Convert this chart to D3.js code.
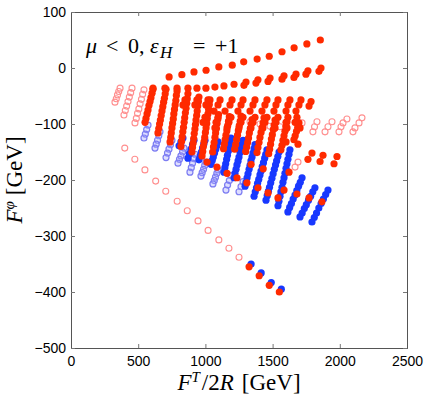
<!DOCTYPE html>
<html><head><meta charset="utf-8">
<script src="https://cdn.jsdelivr.net/npm/d3@7"></script>
<style>body{margin:0;background:#fff}svg{display:block}</style>
</head><body><svg id="c" width="430" height="395"></svg>
<script>
// ---- data (F^T/2R [GeV], F^phi [GeV]) ----
const xTicks = [0, 500, 1000, 1500, 2000, 2500];
const yTicks = [100, 0, -100, -200, -300, -400, -500];

// red open circles
const pinkDiagonal = [[400,-143],[475,-163],[550,-182],[630,-202],[705,-220],[790,-238],[865,-255],[945,-273],[1020,-290],[1100,-307],[1175,-322],[1250,-338]];
const pinkLeft = [[365,-36],[355,-42],[346,-48],[337,-55],[327,-61],
  [454,-36],[444,-44],[434,-52],[424,-60],[414,-68],[404,-76],[394,-84],
  [543,-39],[533,-47],[524,-56],[514,-64],[505,-73],[495,-81],[486,-90],[476,-98]];
const pinkRight = [[1719,-98],[1696,-107],
  [1830,-96],[1812,-105],[1800,-114],
  [1942,-96],[1912,-105],[1890,-114],
  [2053,-91],[2024,-98],[2009,-105],[1994,-114],
  [2165,-89],[2143,-98],[2113,-107],[2098,-114],
  [1689,-168],[1667,-177],
  [1332,-96],[1406,-100],[1481,-104],[1555,-105]];

// light blue open circles
const lightBlue = [[573,-102],[563,-110],[553,-118],[543,-125],
  [662,-114],[653,-121],[644,-129],[634,-136],[625,-143],
  [751,-129],[740,-137],[729,-145],[718,-152],[707,-160],
  [841,-143],[830,-150],[818,-157],[807,-163],[796,-170],
  [923,-154],[914,-162],[904,-170],[895,-178],[885,-186],
  [1004,-168],[995,-174],[986,-181],[976,-187],[967,-193],
  [1094,-182],[1085,-188],[1075,-195],[1066,-201],[1056,-207],
  [1190,-192],[1178,-201],[1165,-209],[1153,-218],
  [1280,-203],[1265,-212],[1250,-221]];

// blue filled
const blueStreaks = [[833,-125],[818,-132],[804,-139],
  [915,-129],[904,-137],[893,-145],[881,-153],[870,-161],
  [997,-129],[988,-136],[979,-143],[970,-150],[961,-157],[952,-164],
  [1094,-132],[1085,-139],[1077,-145],[1068,-152],[1059,-159],[1051,-165],[1042,-172],
  [1190,-125],[1184,-133],[1177,-140],[1171,-148],[1164,-156],[1158,-163],[1151,-171],[1145,-178],[1138,-186],
  [1280,-129],[1273,-136],[1265,-144],[1258,-151],[1250,-159],[1243,-166],[1235,-173],[1228,-181],[1220,-188],[1213,-196],
  [1369,-137],[1362,-144],[1354,-152],[1347,-159],[1339,-166],[1332,-174],[1325,-181],[1317,-189],[1310,-196],[1302,-204],[1295,-211],
  [1458,-146],[1449,-154],[1441,-161],[1432,-169],[1423,-176],[1414,-184],[1406,-191],[1397,-199],[1388,-206],[1380,-214],[1371,-221],[1362,-229],
  [1548,-150],[1539,-158],[1530,-166],[1522,-173],[1513,-181],[1504,-189],[1495,-197],[1486,-205],[1477,-213],[1469,-220],[1460,-228],[1451,-236],
  [1629,-146],[1622,-154],[1614,-163],[1607,-171],[1600,-179],[1592,-188],[1585,-196],[1577,-204],[1570,-213],[1562,-221],[1555,-229],[1547,-238],[1540,-246],
  [1719,-196],[1706,-204],[1693,-211],[1680,-219],[1667,-227],[1653,-234],[1640,-242],[1627,-249],[1614,-257],
  [1815,-214],[1799,-221],[1783,-229],[1767,-236],[1751,-244],[1736,-251],[1720,-259],[1704,-266],
  [1912,-218],[1895,-226],[1878,-234],[1861,-242],[1844,-250],[1827,-259],[1810,-267],[1793,-275]];
const blueDiagonal = [[1340,-350],[1415,-366],[1490,-383],[1565,-395]];

// red filled
const redRowA = [[730,-16],[825,-12],[915,-7],[1005,-4],[1100,2],[1200,5],[1285,11],[1385,16],[1475,21],[1570,29],[1660,36],[1755,43],[1855,50]];
const redRowB = [[610,-36],[699,-36],[789,-36],[870,-36],[937,-36],[1004,-36],[1071,-34],[1138,-32],[1213,-29],[1302,-25],[1391,-21],[1481,-18],[1585,-14],[1674,-11],[1763,-5],[1860,0],
  [1287,-31],[1376,-27],[1466,-24],[1570,-20],[1659,-17],[1748,-11],[1845,-6]];
const redRowC = [[848,-57],[937,-57],[1019,-57],[1109,-57],[1198,-57],[1280,-57],[1369,-57],[1458,-57],[1540,-57],[1629,-57],[1711,-57],[1786,-60],
  [833,-66],[922,-66],[1004,-66],[1094,-66],[1183,-66],[1265,-66],[1354,-66],[1443,-66],[1525,-66],[1614,-66],[1696,-66],[1771,-68]];
const redRowD = [[1064,-77],[1146,-77],[1242,-77],[1332,-77],[1421,-77],[1510,-77],[1600,-77],[1674,-77],
  [997,-88],[1094,-88],[1190,-88],[1280,-88],[1369,-88],[1458,-88],[1540,-88],[1614,-88],[1681,-88],
  [982,-97],[1079,-97],[1175,-97],[1265,-97],[1354,-97],[1443,-97],[1525,-97],[1600,-97],[1667,-97],
  [1071,-107],[1161,-107],[1250,-107],[1339,-107],[1428,-107],[1518,-107],[1607,-107],[1704,-107],
  [1600,-132],[1689,-136]];
const redStreaks = [
  [610,-38],[603,-45],[595,-53],[588,-60],[580,-67],[573,-75],[566,-82],[558,-90],[551,-97],
  [707,-38],[701,-46],[695,-54],[689,-61],[683,-69],[677,-77],[671,-85],[665,-93],[659,-100],[653,-108],[647,-116],
  [789,-41],[784,-49],[780,-58],[775,-66],[770,-74],[765,-82],[761,-91],[756,-99],[751,-107],[746,-116],[742,-124],[737,-132],
  [870,-46],[865,-55],[861,-63],[856,-72],[851,-80],[846,-89],[842,-97],[837,-106],[832,-114],[827,-123],[823,-131],[818,-140],
  [952,-52],[948,-60],[943,-68],[939,-77],[935,-85],[930,-93],[926,-101],[922,-109],[917,-117],[913,-126],[909,-134],[904,-142],[900,-150],
  [1034,-57],[1029,-65],[1024,-74],[1019,-82],[1014,-90],[1010,-99],[1005,-107],[1000,-115],[995,-124],[990,-132],[985,-140],[980,-149],[975,-157],
  [1098,-83],[1093,-91],[1087,-99],[1082,-108],[1076,-116],[1071,-124],[1065,-133],[1060,-141],[1054,-150],
  [1178,-87],[1172,-95],[1166,-103],[1160,-112],[1153,-120],[1147,-128],[1141,-136],[1135,-144],
  [1265,-86],[1259,-95],[1252,-103],[1245,-112],[1239,-120],[1232,-128],[1225,-137],[1218,-145],
  [1347,-92],[1341,-100],[1334,-108],[1327,-116],[1321,-125],[1314,-133],[1307,-141],[1300,-149],
  [1436,-89],[1429,-98],[1421,-107],[1414,-115],[1406,-124],[1399,-133],[1391,-142],[1384,-151],
  [1518,-93],[1511,-102],[1505,-110],[1498,-119],[1491,-127],[1485,-136],[1478,-145],[1471,-153],
  [1607,-96],[1600,-104],[1592,-113],[1585,-121],[1577,-129],[1570,-138],[1562,-146],
  [1696,-98],[1687,-106],[1678,-113],[1668,-121],[1659,-128]];
const redLower = [[1012,-168],[1086,-177],[1161,-188],[1235,-196],[1309,-205],[1391,-214],[1466,-223],[1540,-232],
  [1585,-218],[1681,-225],[1771,-232],[1867,-239],[1622,-186],[1340,-172],[1430,-180],
  [1793,-152],[1763,-163],[1875,-156],[1853,-167],[1979,-158],[1957,-171]];
const redDiagonal = [[1325,-355],[1400,-371],[1475,-388],[1550,-400]];

// ---- drawing ----
const svg = d3.select("#c");
const x = d3.scaleLinear().domain([0, 2500]).range([71, 407]);
const y = d3.scaleLinear().domain([-500, 100]).range([348, 12]);

const plot = svg.append("g");
function dots(data, r, attrs) {
  const sel = plot.append("g").selectAll("circle").data(data).join("circle")
    .attr("cx", d => x(d[0])).attr("cy", d => y(d[1])).attr("r", r);
  for (const k in attrs) sel.attr(k, attrs[k]);
}
const pinkStyle = {fill: "none", stroke: "#ff8f8f", "stroke-width": 1.1};
const lbStyle = {fill: "rgba(160,160,255,0.35)", stroke: "#7d7df2", "stroke-width": 1.2};
dots(lightBlue, 3, lbStyle);
dots(pinkLeft, 3, pinkStyle);
dots(pinkDiagonal, 3, pinkStyle);
dots(pinkRight, 3, pinkStyle);
const blue = {fill: "#1838ff"};
dots(blueStreaks, 3.6, blue);
dots(blueDiagonal, 3.6, blue);
const red = {fill: "#ff2a00"};
dots(redStreaks, 3.6, red);
dots(redRowD, 3.6, red);
dots(redRowC, 3.6, red);
dots(redRowB, 3.6, red);
dots(redRowA, 3.6, red);
dots(redLower, 3.6, red);
dots(redDiagonal, 3.6, red);

// axes
const tickFont = "'Liberation Sans', Arial, sans-serif";
const gx = svg.append("g").attr("transform", "translate(0,348)")
  .call(d3.axisBottom(x).tickValues(xTicks).tickSize(-4).tickPadding(8).tickFormat(d3.format("d")));
const gxt = svg.append("g").attr("transform", "translate(0,12)")
  .call(d3.axisTop(x).tickValues(xTicks).tickSize(-4).tickFormat(""));
const gy = svg.append("g").attr("transform", "translate(71,0)")
  .call(d3.axisLeft(y).tickValues(yTicks).tickSize(-4).tickPadding(5).tickFormat(d3.format("d")));
const gyr = svg.append("g").attr("transform", "translate(407,0)")
  .call(d3.axisRight(y).tickValues(yTicks).tickSize(-4).tickFormat(""));
[gx, gxt, gy, gyr].forEach(g => {
  g.selectAll("path").attr("stroke", "#555").attr("stroke-width", 1);
  g.selectAll("line").attr("stroke", "#777");
  g.selectAll("text").attr("font-family", tickFont).attr("font-size", 14).attr("fill", "#000");
});

// title annotation
const serif = "'Liberation Serif', 'DejaVu Serif', serif";
const t = svg.append("text").attr("y", 53).attr("font-family", serif).attr("font-size", 22);
t.append("tspan").attr("x", 86).attr("font-style", "italic").text("μ");
t.append("tspan").attr("x", 106).text("<");
t.append("tspan").attr("x", 128).text("0,");
t.append("tspan").attr("x", 150).attr("font-style", "italic").text("ε");
t.append("tspan").attr("x", 160).attr("font-style", "italic").attr("font-size", 17).attr("dy", 5).text("H");
t.append("tspan").attr("x", 193).attr("dy", -5).text("=");
t.append("tspan").attr("x", 215).text("+1");

// x label
const xl = svg.append("text").attr("x", 239).attr("y", 390).attr("text-anchor", "middle")
  .attr("font-family", serif).attr("font-size", 23);
xl.append("tspan").attr("font-style", "italic").text("F");
xl.append("tspan").attr("font-style", "italic").attr("font-size", 15).attr("dy", -8).text("T");
xl.append("tspan").attr("dx", 2).attr("dy", 8).text("/2");
xl.append("tspan").attr("font-style", "italic").text("R");
xl.append("tspan").attr("dx", 8).text("[GeV]");

// y label
const yl = svg.append("text").attr("transform", "translate(22,180) rotate(-90)").attr("text-anchor", "middle")
  .attr("font-family", serif).attr("font-size", 23);
yl.append("tspan").attr("font-style", "italic").text("F");
yl.append("tspan").attr("font-style", "italic").attr("font-size", 15).attr("dy", -8).text("φ");
yl.append("tspan").attr("dx", 6).attr("dy", 8).text("[GeV]");
</script></body></html>
